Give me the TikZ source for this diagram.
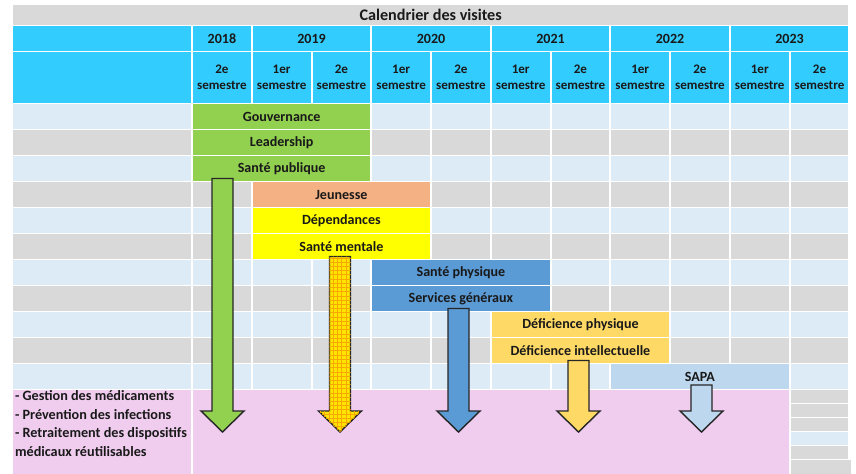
\documentclass[tikz,border=0pt]{standalone}
\usepackage{fontspec}
\setmainfont{Carlito}
\usetikzlibrary{patterns}
\definecolor{headcyan}{RGB}{51,204,255}
\definecolor{rowgray}{RGB}{217,217,217}
\definecolor{rowblue}{RGB}{221,235,247}
\definecolor{bargreen}{RGB}{146,208,80}
\definecolor{barsalmon}{RGB}{244,177,131}
\definecolor{baryellow}{RGB}{255,255,0}
\definecolor{barblue}{RGB}{91,155,213}
\definecolor{bargold}{RGB}{255,217,102}
\definecolor{barsapa}{RGB}{189,215,238}
\definecolor{pinkzone}{RGB}{240,205,239}
\definecolor{dotyellow}{RGB}{255,228,0}
\definecolor{dotorange}{RGB}{248,168,0}
\tikzset{
  cell/.style={draw=white,line width=1.4pt},
  sep/.style={white,line width=1.4pt},
  txt/.style={font=\bfseries\fontsize{10}{12}\selectfont,text=black!90},
  semtxt/.style={font=\bfseries\fontsize{9.3}{11.4}\selectfont,text=black!90,align=center},
  bar/.style={cell,txt,minimum height=0.65cm,minimum width=4.482cm,inner sep=0pt},
  blockarrow/.style={draw=black!85,line width=1pt,line join=miter}
}
\begin{document}
\begin{tikzpicture}
\useasboundingbox (0,0) rectangle (21.4,11.825);
% header
\draw[cell,fill=rowgray] (0.3,11.725) rectangle (21.234,11.1875);
\node[font=\bfseries\fontsize{11.5}{13}\selectfont,text=black!90] (title) at (10.767,11.456) {Calendrier des visites};
\draw[cell,fill=headcyan] (0.3,11.1875) rectangle (21.234,10.5375);
\draw[cell,fill=headcyan] (0.3,10.5375) rectangle (21.234,9.2375);

% rows
\draw[cell,fill=rowblue] (0.3,9.2375) rectangle (21.234,8.5875);
\draw[cell,fill=rowgray] (0.3,8.5875) rectangle (21.234,7.9375);
\draw[cell,fill=rowblue] (0.3,7.9375) rectangle (21.234,7.2875);
\draw[cell,fill=rowgray] (0.3,7.2875) rectangle (21.234,6.6375);
\draw[cell,fill=rowblue] (0.3,6.6375) rectangle (21.234,5.9875);
\draw[cell,fill=rowgray] (0.3,5.9875) rectangle (21.234,5.3375);
\draw[cell,fill=rowblue] (0.3,5.3375) rectangle (21.234,4.6875);
\draw[cell,fill=rowgray] (0.3,4.6875) rectangle (21.234,4.0375);
\draw[cell,fill=rowblue] (0.3,4.0375) rectangle (21.234,3.3875);
\draw[cell,fill=rowgray] (0.3,3.3875) rectangle (21.234,2.7375);
\draw[cell,fill=rowblue] (0.3,2.7375) rectangle (21.234,2.0875);

% bottom zone
\draw[cell,fill=pinkzone] (0.3,2.0875) rectangle (19.74,-0.2);
\draw[cell,fill=rowgray] (19.74,2.0875) rectangle (21.234,1.7375);
\draw[cell,fill=rowgray] (19.74,1.7375) rectangle (21.234,1.3875);
\draw[cell,fill=rowgray] (19.74,1.3875) rectangle (21.234,1.0375);
\draw[cell,fill=rowblue] (19.74,1.0375) rectangle (21.234,0.6875);
\draw[cell,fill=rowgray] (19.74,0.6875) rectangle (21.234,0.3375);
\draw[cell,fill=rowgray] (19.74,0.3375) rectangle (21.3,-0.2);

% column lines
\draw[sep] (4.8,11.1875) -- (4.8,-0.2)
  (6.294,11.1875) -- (6.294,2.0875) (9.282,11.1875) -- (9.282,2.0875)
  (12.27,11.1875) -- (12.27,2.0875) (15.258,11.1875) -- (15.258,2.0875)
  (18.246,11.1875) -- (18.246,2.0875)
  (7.788,10.5375) -- (7.788,2.0875) (10.776,10.5375) -- (10.776,2.0875)
  (13.764,10.5375) -- (13.764,2.0875) (16.752,10.5375) -- (16.752,2.0875)
  (19.74,10.5375) -- (19.74,2.0875);

\node[txt] (y2018) at (5.547,10.8625) {2018};
\node[txt] (y2019) at (7.788,10.8625) {2019};
\node[txt] (y2020) at (10.776,10.8625) {2020};
\node[txt] (y2021) at (13.764,10.8625) {2021};
\node[txt] (y2022) at (16.752,10.8625) {2022};
\node[txt] (y2023) at (19.74,10.8625) {2023};

\node[semtxt] (s1) at (5.547,9.8875) {2e\\semestre};
\node[semtxt] (s2) at (7.041,9.8875) {1er\\semestre};
\node[semtxt] (s3) at (8.535,9.8875) {2e\\semestre};
\node[semtxt] (s4) at (10.029,9.8875) {1er\\semestre};
\node[semtxt] (s5) at (11.523,9.8875) {2e\\semestre};
\node[semtxt] (s6) at (13.017,9.8875) {1er\\semestre};
\node[semtxt] (s7) at (14.511,9.8875) {2e\\semestre};
\node[semtxt] (s8) at (16.005,9.8875) {1er\\semestre};
\node[semtxt] (s9) at (17.499,9.8875) {2e\\semestre};
\node[semtxt] (s10) at (18.993,9.8875) {1er\\semestre};
\node[semtxt] (s11) at (20.487,9.8875) {2e\\semestre};

% visits
\node[bar,fill=bargreen] (gouv) at (7.041,8.9125) {Gouvernance};
\node[bar,fill=bargreen] (lead) at (7.041,8.2625) {Leadership};
\node[bar,fill=bargreen] (santepub) at (7.041,7.6125) {Santé publique};
\node[bar,fill=barsalmon] (jeun) at (8.535,6.9625) {Jeunesse};
\node[bar,fill=baryellow] (dep) at (8.535,6.3125) {Dépendances};
\node[bar,fill=baryellow] (santement) at (8.535,5.6625) {Santé mentale};
\node[bar,fill=barblue] (santephys) at (11.523,5.0125) {Santé physique};
\node[bar,fill=barblue] (servgen) at (11.523,4.3625) {Services généraux};
\node[bar,fill=bargold] (defphys) at (14.511,3.7125) {Déficience physique};
\node[bar,fill=bargold] (defint) at (14.511,3.0625) {Déficience intellectuelle};
\node[bar,fill=barsapa] (sapa) at (17.499,2.4125) {SAPA};

\node[txt,align=left,anchor=north west,inner sep=0pt,font=\bfseries\fontsize{10.1}{13.2}\selectfont] (items) at (0.37,2.06)
  {- Gestion des médicaments\\- Prévention des infections\\- Retraitement des dispositifs\\médicaux réutilisables};

% arrows
\draw[blockarrow,fill=bargreen] (5.3,7.3625) -- (5.3,1.55) -- (5.025,1.55) -- (5.5625,1.025) -- (6.1,1.55) -- (5.825,1.55) -- (5.825,7.3625) -- cycle;
\draw[blockarrow,fill=dotyellow,postaction={pattern=grid,pattern color=dotorange}] (8.2375,5.4125) -- (8.2375,1.55) -- (7.9625,1.55) -- (8.5,1.025) -- (9.0375,1.55) -- (8.7625,1.55) -- (8.7625,5.4125) -- cycle;
\draw[blockarrow,fill=barblue] (11.2,4.1125) -- (11.2,1.55) -- (10.925,1.55) -- (11.4625,1.025) -- (12.0,1.55) -- (11.725,1.55) -- (11.725,4.1125) -- cycle;
\draw[blockarrow,fill=bargold] (14.2,2.8125) -- (14.2,1.55) -- (13.925,1.55) -- (14.4625,1.025) -- (15.0,1.55) -- (14.725,1.55) -- (14.725,2.8125) -- cycle;
\draw[blockarrow,fill=barsapa] (17.275,2.2) -- (17.275,1.55) -- (17.0,1.55) -- (17.5375,1.025) -- (18.075,1.55) -- (17.8,1.55) -- (17.8,2.2) -- cycle;

\end{tikzpicture}
\end{document}
